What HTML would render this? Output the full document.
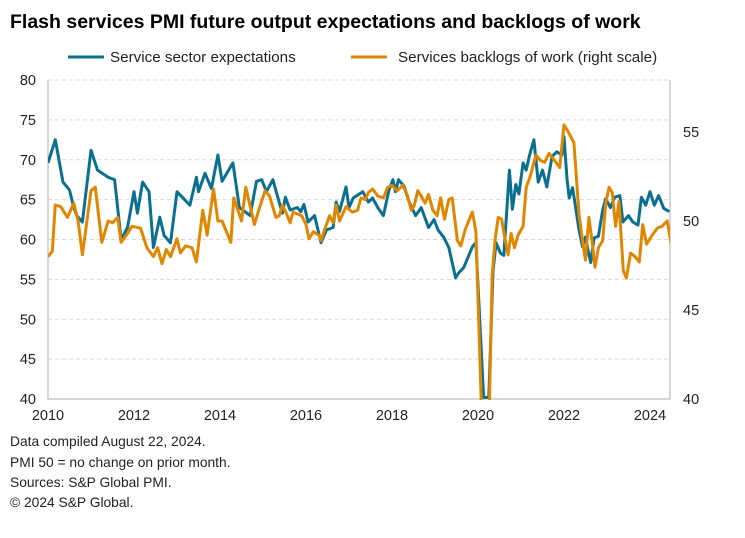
<!DOCTYPE html>
<html><head><meta charset="utf-8"><style>
body{margin:0;background:#fff;font-family:"Liberation Sans",sans-serif}
</style></head><body>
<svg width="745" height="533" xmlns="http://www.w3.org/2000/svg" font-family="Liberation Sans, sans-serif">
<text x="10" y="28" font-size="19.5" font-weight="bold" fill="#000">Flash services PMI future output expectations and backlogs of work</text>
<g>
<line x1="68" y1="57" x2="104" y2="57" stroke="#0b7090" stroke-width="3"/>
<text x="110" y="62" font-size="15.2" fill="#222">Service sector expectations</text>
<line x1="351" y1="57" x2="387" y2="57" stroke="#e08600" stroke-width="3"/>
<text x="398" y="62" font-size="15.2" fill="#222">Services backlogs of work (right scale)</text>
</g>
<defs><clipPath id="pc"><rect x="48" y="78" width="622" height="322"/></clipPath></defs>
<g id="grid"></g><g id="axes"></g>
<g id="series" clip-path="url(#pc)"></g>
<g font-size="13.8" fill="#222">
<text x="10" y="446">Data compiled August 22, 2024.</text>
<text x="10" y="467">PMI 50 = no change on prior month.</text>
<text x="10" y="487">Sources: S&amp;P Global PMI.</text>
<text x="10" y="507">© 2024 S&amp;P Global.</text>
</g>
</svg>
<script>
const leftTicks=[40,45,50,55,60,65,70,75,80];
const rightTicks=[40,45,50,55];
const xTicks=[2010,2012,2014,2016,2018,2020,2022,2024];
const expDates=[2010.0,2010.17,2010.35,2010.5,2010.6,2010.67,2010.8,2011.0,2011.15,2011.4,2011.55,2011.7,2011.85,2012.0,2012.08,2012.2,2012.35,2012.45,2012.6,2012.7,2012.85,2013.0,2013.3,2013.45,2013.5,2013.65,2013.8,2013.95,2014.05,2014.3,2014.45,2014.7,2014.85,2014.97,2015.08,2015.23,2015.35,2015.45,2015.52,2015.63,2015.8,2015.88,2015.95,2016.05,2016.2,2016.35,2016.48,2016.63,2016.7,2016.78,2016.93,2017.0,2017.1,2017.32,2017.45,2017.55,2017.67,2017.8,2017.93,2018.02,2018.08,2018.15,2018.28,2018.4,2018.55,2018.68,2018.85,2018.98,2019.07,2019.2,2019.32,2019.48,2019.55,2019.67,2019.87,2019.95,2020.13,2020.25,2020.35,2020.42,2020.52,2020.6,2020.67,2020.73,2020.8,2020.88,2020.95,2021.05,2021.12,2021.2,2021.3,2021.4,2021.5,2021.6,2021.72,2021.83,2021.95,2022.0,2022.07,2022.12,2022.2,2022.35,2022.43,2022.5,2022.57,2022.62,2022.7,2022.8,2022.9,2022.97,2023.08,2023.18,2023.3,2023.37,2023.5,2023.6,2023.72,2023.8,2023.9,2024.0,2024.1,2024.2,2024.32,2024.45,2024.55];
const expValues=[69.6,72.5,67.2,66.2,64,63,62.2,71.2,68.7,67.8,67.5,60,61.5,66,63.3,67.2,66,59,62.8,60.5,59.6,66,64.3,67.8,66,68.3,66.4,70.6,67.3,69.6,64,63,67.3,67.5,66,67.5,65.2,63.3,65.3,63.7,64,63.5,64.4,62.2,63,59.6,61.2,61.5,64.7,63.5,66.6,64,65.2,66,64.7,65.2,64,63,66.2,67.5,66,67.5,66.7,64.7,63,64,61.5,62.5,61.2,60.3,59,55.2,55.8,56.5,59.1,59.6,40.2,40.2,56,59.6,58.3,58,63.7,68.7,63.8,66.9,65.7,69.6,68.7,70.6,72.5,67.2,68.7,66.6,70.4,71,70.6,72.9,67.6,65.2,66.5,61.2,59.1,60.3,58.4,57.1,60.2,60.4,63.7,65.1,64,65.3,65.5,62.2,63,62.2,61.8,65.3,64.3,66,64.3,65.5,63.9,63.5];
const blgDates=[2010.0,2010.1,2010.17,2010.3,2010.45,2010.6,2010.7,2010.8,2011.0,2011.1,2011.25,2011.4,2011.5,2011.62,2011.7,2011.85,2011.95,2012.15,2012.3,2012.45,2012.55,2012.65,2012.75,2012.85,2013.0,2013.08,2013.2,2013.35,2013.45,2013.6,2013.7,2013.85,2013.95,2014.05,2014.25,2014.32,2014.5,2014.6,2014.8,2014.9,2015.05,2015.15,2015.3,2015.38,2015.45,2015.55,2015.63,2015.7,2015.9,2016.0,2016.07,2016.17,2016.3,2016.35,2016.43,2016.55,2016.63,2016.7,2016.78,2016.93,2017.08,2017.2,2017.28,2017.38,2017.45,2017.55,2017.67,2017.8,2017.9,2018.0,2018.12,2018.25,2018.35,2018.45,2018.52,2018.6,2018.68,2018.77,2018.85,2018.95,2019.05,2019.13,2019.22,2019.32,2019.4,2019.52,2019.6,2019.7,2019.8,2019.87,2019.95,2020.1,2020.25,2020.33,2020.4,2020.47,2020.55,2020.62,2020.7,2020.77,2020.85,2020.93,2021.05,2021.12,2021.2,2021.35,2021.45,2021.55,2021.65,2021.75,2021.9,2022.0,2022.1,2022.23,2022.35,2022.43,2022.5,2022.58,2022.65,2022.72,2022.8,2022.9,2022.97,2023.05,2023.12,2023.2,2023.28,2023.38,2023.45,2023.55,2023.65,2023.75,2023.83,2023.92,2024.05,2024.17,2024.28,2024.4,2024.5,2024.55];
const blgValues=[48,48.3,50.9,50.8,50.2,51,50,48.1,51.7,51.9,48.8,50,49.9,50.2,48.8,49.3,49.7,49.6,48.5,48,48.5,47.6,48.4,48,49,48.2,48.6,48.5,47.7,50.6,49.2,51.8,50,50,48.8,51.3,50,51.9,49.8,50.6,51.7,51.4,50.2,50.3,50.9,50.4,49.9,50.5,50.3,49.8,49,49.4,49.2,48.9,49.5,50.3,49.9,50.9,50,50.8,50.5,50.6,51.3,51.2,51.6,51.8,51.4,51.3,51.9,52,51.7,52,51.5,50.6,50.9,51.7,51.4,51,51.5,50.6,50.3,51.3,50.1,51.2,51.3,48.9,48.6,49.5,50.1,50.5,49.4,38,38,47,49,50.2,50.1,49.1,48.1,49.3,48.5,49.2,49.7,51.9,52.4,53.7,53.4,53.3,53.8,53.5,53,55.4,55,54.4,50.4,48.9,47.8,50.2,48.9,47.4,48.5,48.9,51,51.9,51.6,49.7,51.1,47.2,46.8,48.2,48,47.7,49.8,48.7,49.2,49.6,49.7,50,48.6];

const NS="http://www.w3.org/2000/svg";
const X0=48,PX_YEAR=43,PL=399,PT=80,PR=670;
const xs=d=>X0+(d-2010)*PX_YEAR;
const yl=v=>PT+(80-v)*(PL-PT)/40;
const yr=v=>PL-(v-40)*(PL-132)/15;
function mk(tag,attrs,parent){const e=document.createElementNS(NS,tag);for(const k in attrs)e.setAttribute(k,attrs[k]);parent.appendChild(e);return e;}
const grid=document.getElementById('grid'),axes=document.getElementById('axes'),ser=document.getElementById('series');
leftTicks.forEach(t=>{
  if(t>40){const g=mk('line',{x1:X0,x2:PR,y1:yl(t),y2:yl(t),stroke:'#d9d9d9','stroke-dasharray':'4,3'},grid);
  
  }
  const tx=mk('text',{x:36,y:yl(t)+5,'text-anchor':'end','font-size':14.5,fill:'#222'},axes);tx.textContent=t;
  
  
});
rightTicks.forEach(t=>{
  const tx=mk('text',{x:683,y:yr(t)+5,'font-size':14.5,fill:'#222'},axes);tx.textContent=t;
  
  
});
xTicks.forEach(t=>{
  const tx=mk('text',{x:xs(t),y:420,'text-anchor':'middle','font-size':14.5,fill:'#222'},axes);tx.textContent=t;
  
  
});
const la=mk('path',{d:`M${X0} ${PT}V${PL}H${PR}V${PT}`,fill:'none',stroke:'#bfbfbf','stroke-width':1.2},axes);


const p1=mk('path',{d:expDates.map((d,i)=>(i?'L':'M')+xs(d).toFixed(1)+' '+yl(expValues[i]).toFixed(1)).join(''),fill:'none',stroke:'#0b7090','stroke-width':3,'stroke-linejoin':'round'},ser);


const p2=mk('path',{d:blgDates.map((d,i)=>(i?'L':'M')+xs(d).toFixed(1)+' '+yr(blgValues[i]).toFixed(1)).join(''),fill:'none',stroke:'#e08600','stroke-width':3,'stroke-linejoin':'round'},ser);


</script>
</body></html>
